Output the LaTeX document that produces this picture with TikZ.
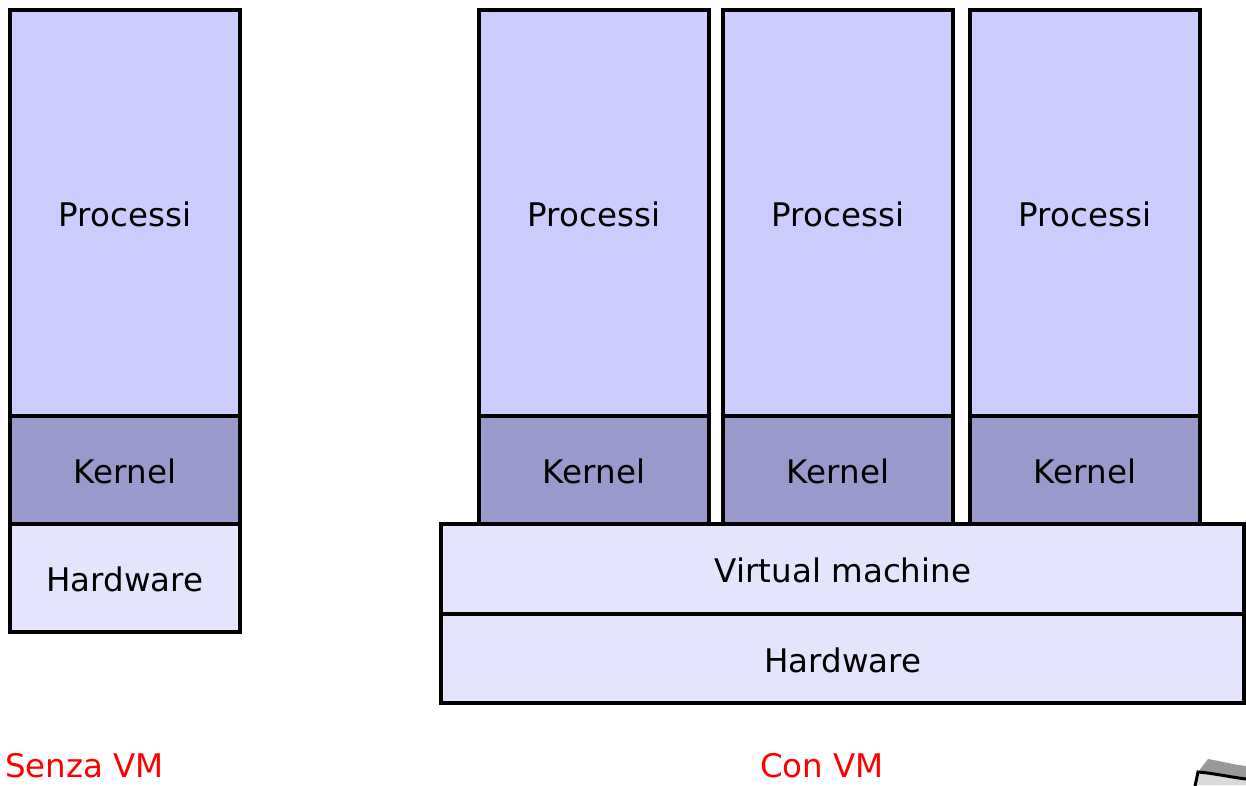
\documentclass[tikz,border=0pt]{standalone}
\usepackage{fontspec}
\setmainfont{DejaVu Sans}
\begin{document}
\begin{tikzpicture}[x=1pt,y=-1pt,
  layer/.style={draw=black,line width=4pt,line join=miter},
  proc/.style={layer,fill=procfill},
  kern/.style={layer,fill=kernfill},
  hw/.style={layer,fill=hwfill},
  lbl/.style={font=\fontsize{32.5}{38}\selectfont,text=black},
  captext/.style={font=\fontsize{32.5}{38}\selectfont,text=red,anchor=base,inner sep=0pt}]
\definecolor{procfill}{HTML}{CCCCFF}
\definecolor{kernfill}{HTML}{9999CC}
\definecolor{hwfill}{HTML}{E4E4FC}
\useasboundingbox (0,0) rectangle (1246,785);

% system without a virtual machine
\draw[proc] (10,10) rectangle (240,416);
\draw[kern] (10,416) rectangle (240,524);
\draw[hw]   (10,524) rectangle (240,632);
\node[lbl] (p0) at (125,214) {Processi};
\node[lbl] (k0) at (125,471) {Kernel};
\node[lbl] (h0) at (125,579) {Hardware};

% three guest systems on a virtual machine
\foreach \l/\r/\i in {479/709/1, 723/953/2, 970/1200/3}{
  \draw[proc] (\l,10) rectangle (\r,416);
  \draw[kern] (\l,416) rectangle (\r,524);
  \node[lbl] (p\i) at ({(\l+\r)/2},214) {Processi};
  \node[lbl] (k\i) at ({(\l+\r)/2},471) {Kernel};
}
\draw[hw] (441,524) rectangle (1244,614);
\draw[hw] (441,614) rectangle (1244,703);
\node[lbl] (vm) at (843,570) {Virtual machine};
\node[lbl] (h1) at (843,660) {Hardware};

% captions
\node[captext,anchor=base west] (c0) at (5,777) {Senza VM};
\node[captext] (c1) at (822,777) {Con VM};

% page curl in the corner
\fill[gray!80] (1208,759) .. controls (1225,762) and (1236,765) .. (1246,766)
  -- (1246,779) .. controls (1230,777) and (1212,773) .. (1198,772) -- cycle;
\fill[black!15] (1198,772) .. controls (1212,773) and (1230,777) .. (1246,779)
  -- (1246,785) -- (1195,785) -- cycle;
\draw[line width=3pt] (1195,786) -- (1198,772)
  .. controls (1212,773) and (1230,777) .. (1246,779);
\end{tikzpicture}
\end{document}
